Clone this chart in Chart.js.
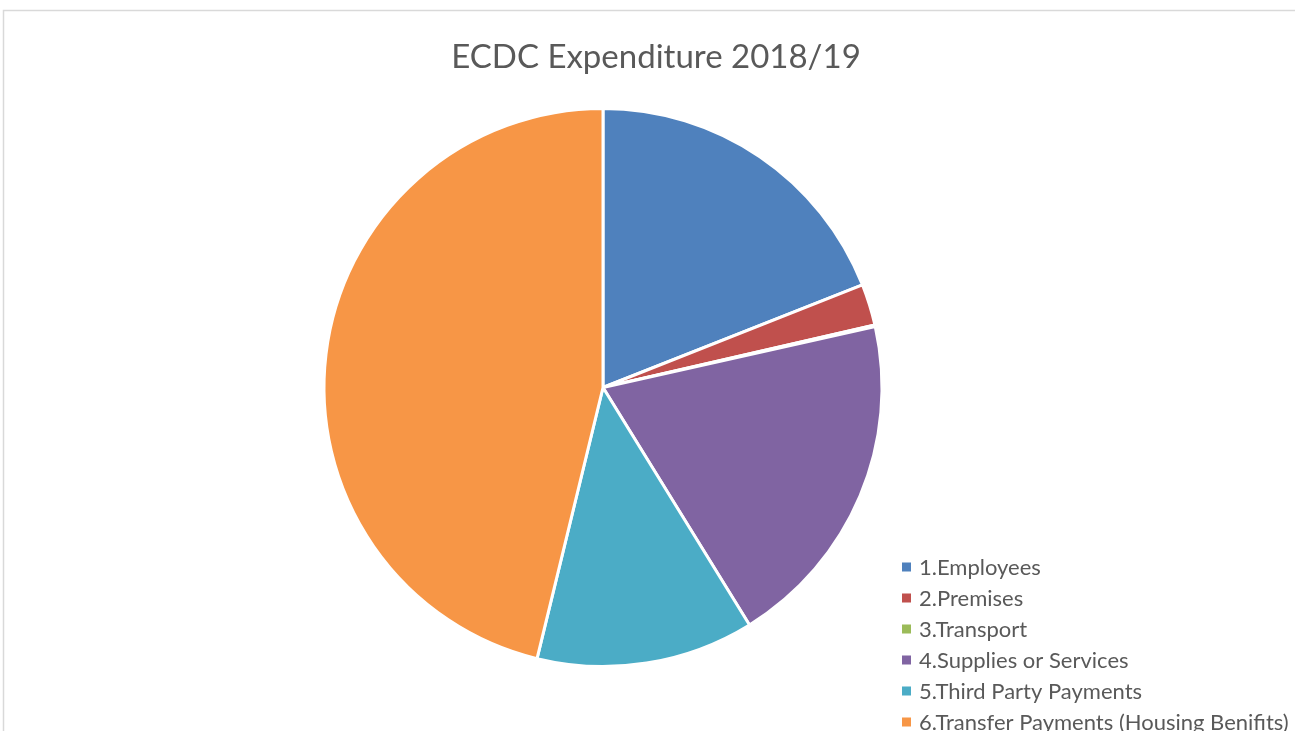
<!DOCTYPE html>
<html>
<head>
<meta charset="utf-8">
<script src="https://cdn.jsdelivr.net/npm/chart.js@4/dist/chart.umd.min.js"></script>
<style>
html, body { margin: 0; padding: 0; background: #fff; overflow: hidden; }
#wrap { width: 1295px; height: 731px; position: relative; }
</style>
</head>
<body>
<div id="wrap"><canvas id="chart1"></canvas></div>
<script>
// DATA
const labels = ["1.Employees", "2.Premises", "3.Transport", "4.Supplies or Services", "5.Third Party Payments", "6.Transfer Payments (Housing Benifits)"];
const spend = [19.0, 2.4, 0.1, 19.7, 12.6, 46.2];
const colours = ["#4F81BD", "#C0504D", "#9BBB59", "#8064A2", "#4BACC6", "#F79646"];
const titleText = "ECDC Expenditure 2018/19";

// frame round the chart + title (title sits centred on the whole frame, not the pie)
const framePlugin = {
    id: 'frame',
    beforeDraw(chart) {
        let ctx = chart.ctx;
        ctx.save();
        ctx.strokeStyle = '#d9d9d9';
        ctx.lineWidth = 1.5;
        ctx.strokeRect(3.5, 10.5, 1400, 800);
        ctx.fillStyle = '#595959';
        ctx.font = '33px Lato';
        ctx.textAlign = 'center';
        ctx.textBaseline = 'middle';
        ctx.fillText(titleText, 656, 57);
        ctx.restore();
    }
};

// legend bottom right, drawn by hand so it can run off the canvas
const legendPlugin = {
    id: 'sideLegend',
    afterDraw(chart) {
        let ctx = chart.ctx;
        let ds = chart.data.datasets[0];
        ctx.save();
        ctx.font = '22px Lato';
        ctx.textBaseline = 'middle';
        chart.data.labels.forEach((lab, i) => {
            let y = 567 + i * 31;
            ctx.fillStyle = ds.backgroundColor[i];
            ctx.fillRect(902, y - 4.5, 9, 9);
            ctx.fillStyle = '#595959';
            ctx.fillText(lab, 919, y + 1);
        });
        ctx.restore();
    }
};

let ctx1 = document.getElementById('chart1').getContext('2d');
let myChart1 = new Chart(ctx1, {
    type: 'pie',
    data: {
        labels: labels,
        datasets: [{
            data: spend,
            backgroundColor: colours,
            borderColor: '#ffffff',
            borderWidth: 3
        }]
    },
    options: {
        responsive: true,
        maintainAspectRatio: false,
        animation: false,
        layout: { padding: { top: 107, bottom: 63, left: 0, right: 89 } },
        plugins: {
            legend: { display: false },
            tooltip: { enabled: false },
            title: { display: false }
        }
    },
    plugins: [framePlugin, legendPlugin]
});
</script>
</body>
</html>
